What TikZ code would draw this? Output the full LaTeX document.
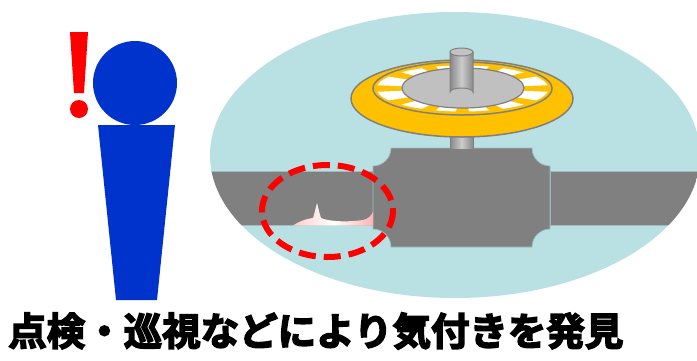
\documentclass[tikz,border=0pt]{standalone}
\usepackage{fontspec}
\usepackage{tikz}
\usetikzlibrary{positioning}
\newfontfamily\jpfont{Noto Sans CJK JP}[BoldFont={* Bold}, BoldFeatures={FakeBold=4}]
\definecolor{personblue}{RGB}{0,51,204}
\definecolor{skyfill}{RGB}{185,224,227}
\definecolor{pipegray}{RGB}{128,128,128}
\definecolor{pipeedge}{RGB}{160,188,192}
\definecolor{wheelorange}{RGB}{255,192,0}
\definecolor{hubgray}{RGB}{192,192,192}
\definecolor{stemgray}{RGB}{170,170,170}

\begin{document}
\begin{tikzpicture}[
  x=1pt, y=-1pt,
  pipe/.style={fill=pipegray, draw=pipeedge, line width=0.6pt},
  wheelpart/.style={draw=pipegray, line width=1.5pt},
  stemshade/.style={left color=stemgray!80!black, right color=stemgray!80!black, middle color=stemgray!60!white, draw=pipegray, line width=1pt},
  marker/.style={draw=red, line width=6pt, dash pattern=on 17pt off 8pt},
  caption/.style={font=\jpfont\bfseries\fontsize{38.5}{40}\selectfont, inner sep=0pt, anchor=west}
]
  \clip (0,0) rectangle (697,360);
  \useasboundingbox (0,0) rectangle (697,360);

  % view of the pipe line
  \fill[skyfill] (455,155) ellipse[x radius=245, y radius=143];
  \begin{scope}
    \clip (455,155) ellipse[x radius=245, y radius=143];
    \draw[pipe] (190,171) rectangle (373,225);
    \draw[pipe] (550,171) rectangle (720,225);
  \end{scope}
  \draw[pipe] (391,148) -- (532,148) arc[start angle=180, end angle=90, radius=18]
    -- (550,229) arc[start angle=270, end angle=180, radius=18]
    -- (391,247) arc[start angle=0, end angle=-90, radius=18]
    -- (373,166) arc[start angle=90, end angle=0, radius=18] -- cycle;

  % deposit at the bottom of the pipe
  \shade[left color=red!20, right color=red!30, middle color=white]
    (293,225.5) .. controls (298,222) and (305,219) .. (313,218)
    .. controls (315,212) and (316,206) .. (317,203)
    .. controls (318,206) and (319,212) .. (321,218)
    .. controls (330,222) and (350,222) .. (363,220)
    .. controls (368,219) and (371,216) .. (373,212) -- (373,225.5) -- cycle;

  % stem below the wheel
  \draw[stemshade] (450,120) rectangle (473,149);

  % hand wheel
  \draw[wheelpart, fill=wheelorange] (462,98.5) ellipse[x radius=111, y radius=38.5];
  \fill[wheelorange] (462.5,88.5) ellipse[x radius=89.5, y radius=26.5];
  \begin{scope}
    \clip (462.5,88.5) ellipse[x radius=86, y radius=23];
    \foreach \a in {0,30,...,330}
      \fill[white] (462.5,88.5) -- ([shift={(462.5,88.5)}]\a+6:110 and 40)
        -- ([shift={(462.5,88.5)}]\a+24:110 and 40) -- cycle;
  \end{scope}
  \draw[wheelpart] (462.5,88.5) ellipse[x radius=89.5, y radius=26.5];
  \draw[draw=pipegray, line width=1.2pt, fill=hubgray] (463,88) ellipse[x radius=61, y radius=20];

  % stem above the wheel
  \draw[stemshade] (450,52) -- (450,92) arc[start angle=180, end angle=0, x radius=11.5, y radius=-4] -- (473,52) -- cycle;
  \draw[draw=pipegray, line width=1pt, fill=stemgray!70!white] (461.5,52) ellipse[x radius=11.5, y radius=4];

  % area where the fault is found
  \draw[marker] (327.5,211) ellipse[x radius=65.5, y radius=46];

  % person with exclamation mark
  \fill[personblue] (135,83) circle[radius=42];
  \fill[personblue] (98,125) -- (175,125) -- (157,300) -- (116,300) -- cycle;
  \fill[red] (70,32) -- (88,32) -- (84,93) -- (74,93) -- cycle;
  \fill[red] (79,109) circle[radius=9];

  \node[caption] (label) at (8,331) {点検・巡視などにより気付きを発見};
\end{tikzpicture}
\end{document}
